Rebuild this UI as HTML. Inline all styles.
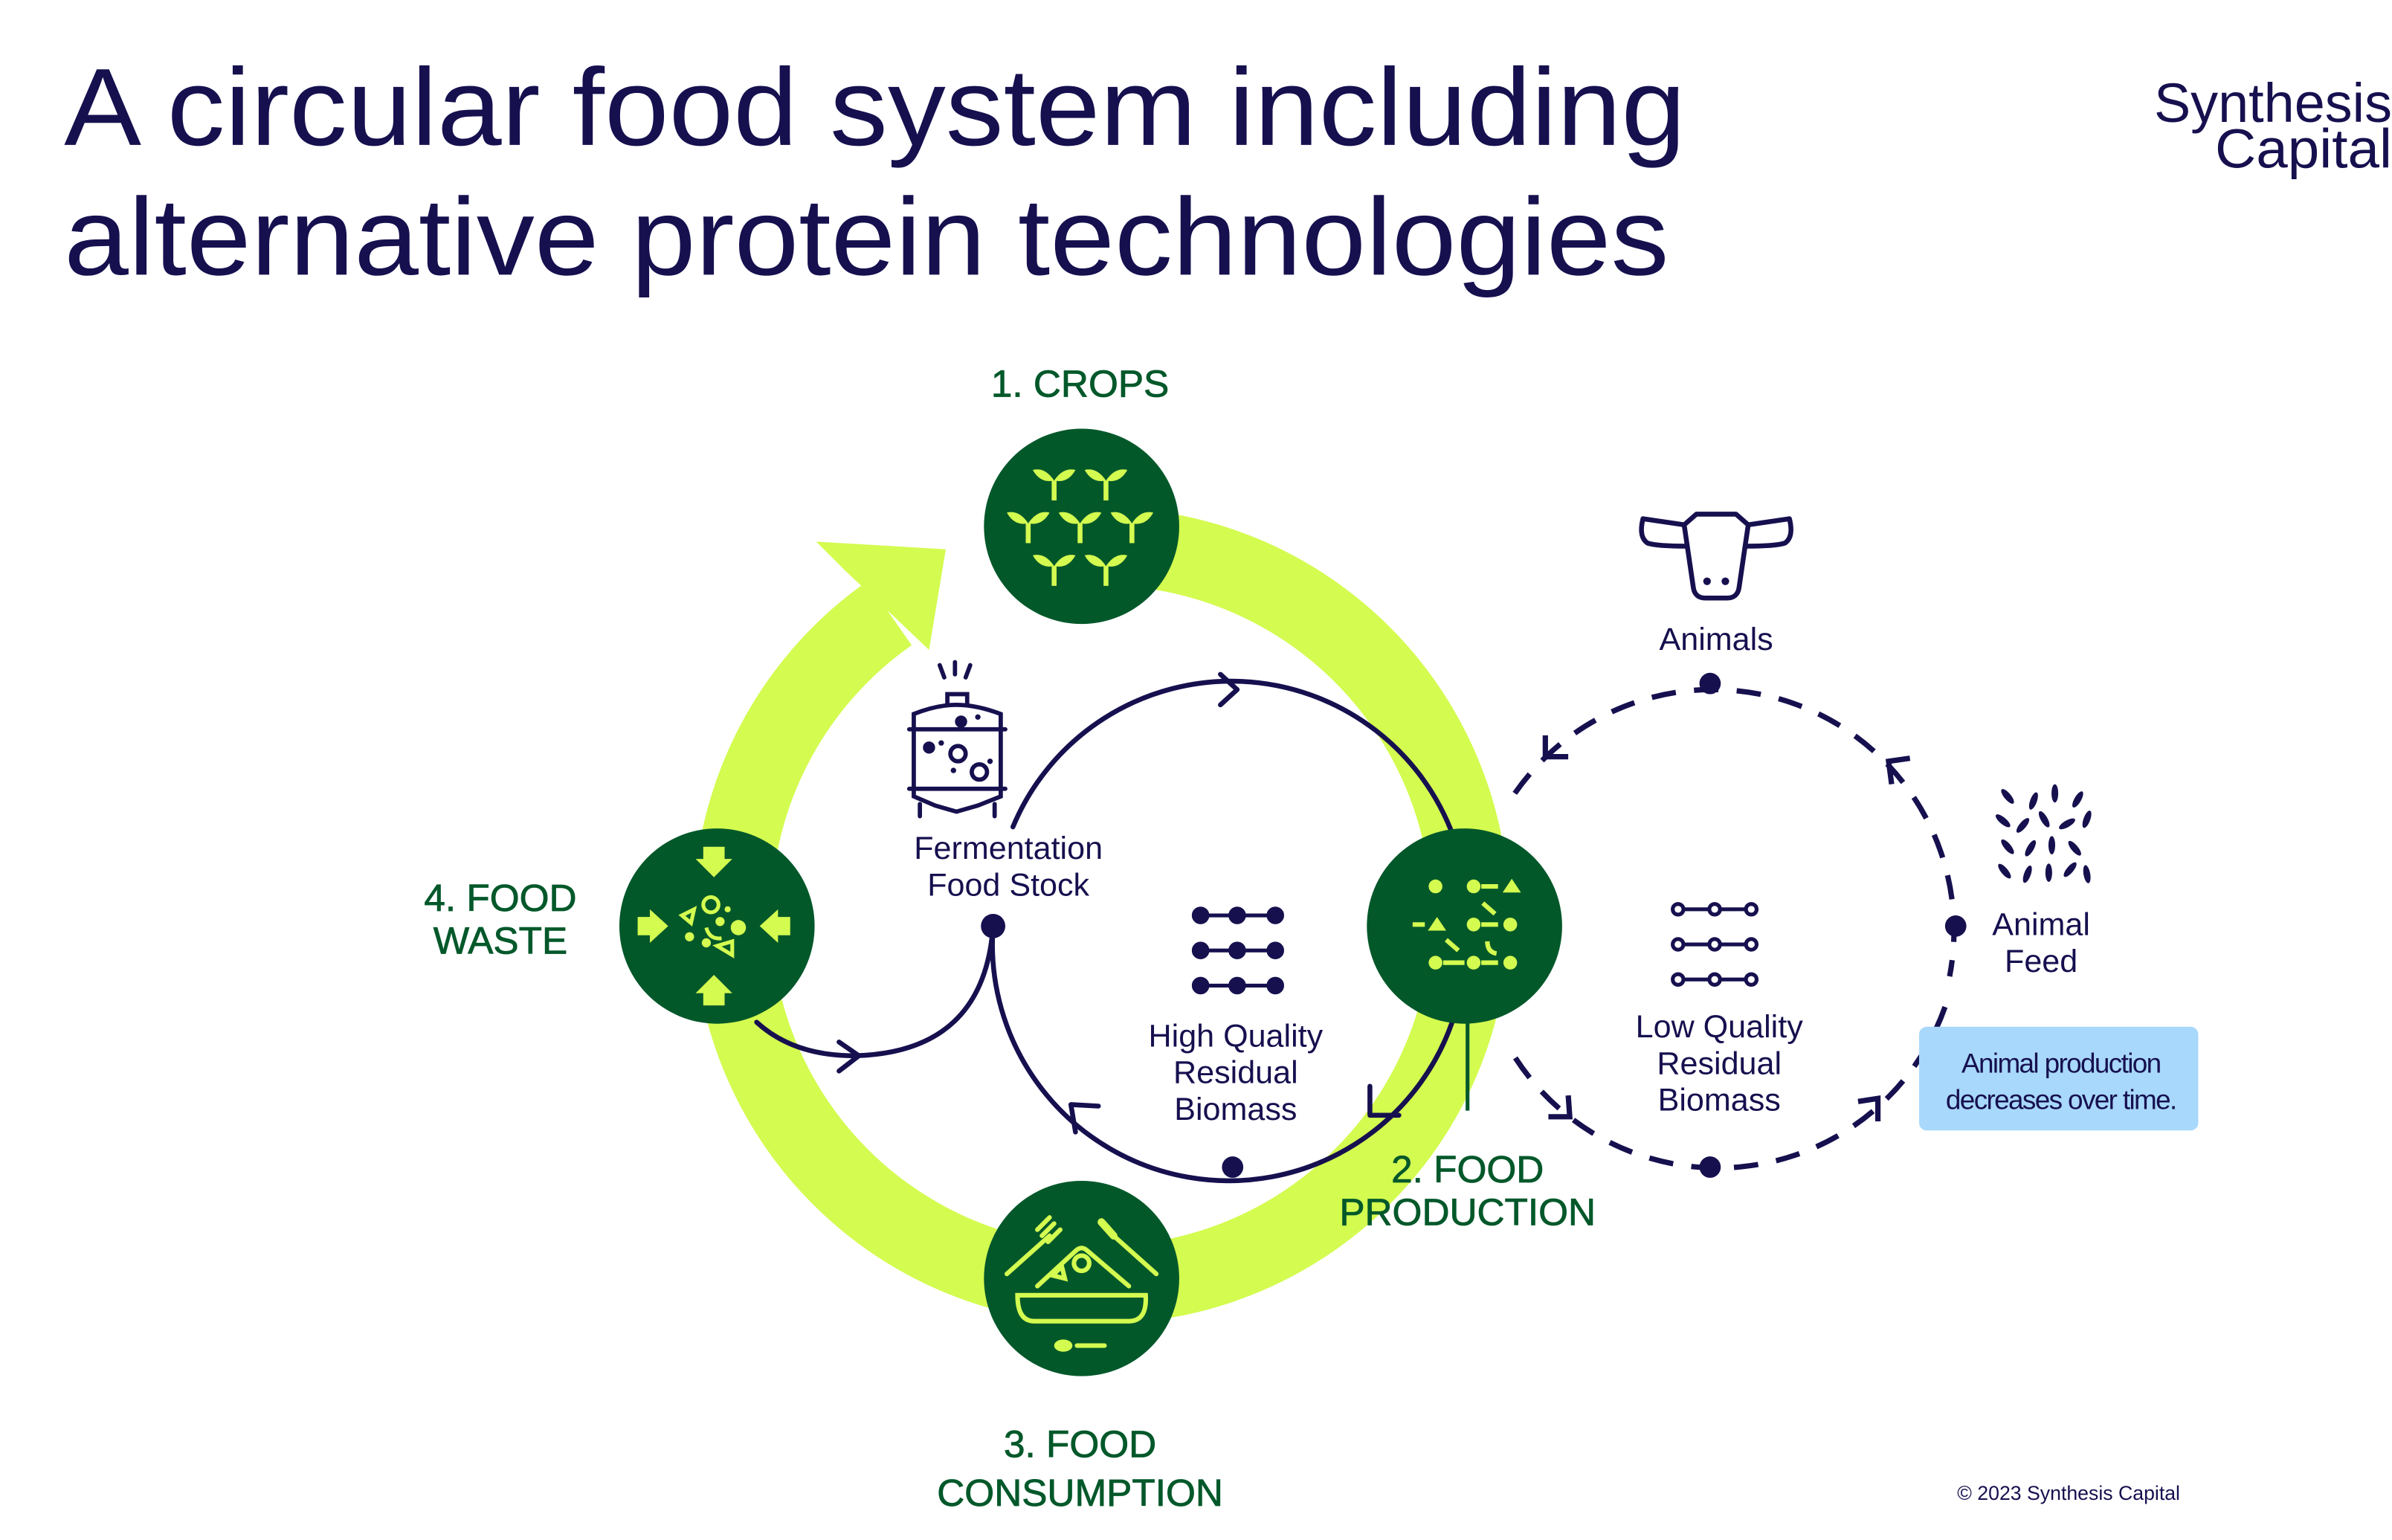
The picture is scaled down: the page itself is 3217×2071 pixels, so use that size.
<!DOCTYPE html>
<html><head><meta charset="utf-8"><style>
html,body{margin:0;padding:0;background:#fff;}
svg{display:block;}
text{font-family:"Liberation Sans",sans-serif;}
</style></head><body>
<svg width="3217" height="2071" viewBox="0 0 1568 1009.4" xmlns="http://www.w3.org/2000/svg">
<defs>
<g id="sp"><path d="M0 -3 L0 10" stroke="#d4fb50" stroke-width="3.2" fill="none"/><path d="M0 -3 Q-6 -12 -14 -10 Q-9 -1 0 -3Z" fill="#d4fb50"/><path d="M0 -3 Q6 -12 14 -10 Q9 -1 0 -3Z" fill="#d4fb50"/></g>
</defs>
<text x="42" y="95" font-size="72" fill="#16104f" textLength="1063" lengthAdjust="spacingAndGlyphs">A circular food system including</text>
<text x="42" y="180" font-size="72" fill="#16104f" textLength="1052" lengthAdjust="spacingAndGlyphs">alternative protein technologies</text>
<text x="1412" y="80" font-size="36" fill="#16104f" textLength="156" lengthAdjust="spacingAndGlyphs">Synthesis</text>
<text x="1452" y="110" font-size="36" fill="#16104f" textLength="116" lengthAdjust="spacingAndGlyphs">Capital</text>

<path d="M702.9 358.9 A242 242 0 1 1 583 402" fill="none" stroke="#d4fb50" stroke-width="51"/>
<polygon points="535,355 620,360 609,426 588,406 554,374" fill="#d4fb50"/>

<g fill="none" stroke="#16104f" stroke-width="3.2" stroke-linecap="round" stroke-linejoin="round">
<path d="M664 542 A155 155 0 0 1 955 555"/>
<path d="M955 660 A155 155 0 0 1 651 607"/>
<path d="M496 670 Q520 692 560 692 Q645 690 651 607"/>
<polyline points="800,442 811,452 800,462"/>
<polyline points="705,742 702,724 720,725"/>
<polyline points="898,712 898,731 917,731"/>
<polyline points="550,683 563,692 550,702"/>
</g>
<circle cx="651" cy="607" r="8" fill="#16104f"/>
<circle cx="808" cy="765" r="7" fill="#16104f"/>

<g fill="none" stroke="#16104f" stroke-width="3.5" stroke-linecap="butt">
<path d="M993 520 A158 158 0 0 1 1278 640" stroke-dasharray="16 12"/>
<path d="M1275 660 A158 158 0 0 1 990 688" stroke-dasharray="16 12"/>
<polyline points="1013,482 1013,496 1028,496"/>
<polyline points="1240,514 1238,499 1252,497"/>
<polyline points="1028,718 1029,732 1015,732"/>
<polyline points="1218,722 1231,720 1231,735"/>
</g>
<circle cx="1121" cy="448" r="7" fill="#16104f"/>
<circle cx="1121" cy="765" r="7" fill="#16104f"/>
<circle cx="1282" cy="607" r="7" fill="#16104f"/>

<line x1="962" y1="660" x2="962" y2="728" stroke="#03582a" stroke-width="2.5"/>

<g fill="#03582a">
<circle cx="709" cy="345" r="64"/>
<circle cx="960" cy="607" r="64"/>
<circle cx="709" cy="838" r="64"/>
<circle cx="470" cy="607" r="64"/>
</g>
<use href="#sp" x="691" y="318"/><use href="#sp" x="725" y="318"/>
<use href="#sp" x="674" y="346"/><use href="#sp" x="708" y="346"/><use href="#sp" x="742" y="346"/>
<use href="#sp" x="691" y="374"/><use href="#sp" x="725" y="374"/>
<g fill="#d4fb50" stroke="#d4fb50" stroke-width="3">
<circle cx="941" cy="581" r="4.5" stroke="none"/><circle cx="966" cy="581" r="4.5" stroke="none"/>
<line x1="971" y1="581" x2="982" y2="581"/><polygon points="985,585 991,576 997,585" stroke="none"/>
<line x1="972" y1="592" x2="980" y2="599"/>
<line x1="926" y1="606" x2="934" y2="606"/><polygon points="936,610 942,601 948,610" stroke="none"/>
<circle cx="966" cy="606" r="4.5" stroke="none"/><line x1="971" y1="606" x2="982" y2="606"/><circle cx="990" cy="606" r="4.5" stroke="none"/>
<line x1="948" y1="616" x2="956" y2="623"/><path d="M975 617 Q975 624 981 625" fill="none"/>
<circle cx="941" cy="631" r="4.5" stroke="none"/><line x1="946" y1="631" x2="960" y2="631"/><circle cx="966" cy="631" r="4.5" stroke="none"/><line x1="971" y1="631" x2="982" y2="631"/><circle cx="990" cy="631" r="4.5" stroke="none"/>
</g>
<g fill="none" stroke="#d4fb50" stroke-width="3" stroke-linecap="round">
<line x1="660" y1="835" x2="688" y2="810"/><path d="M683 810 l8 -8 M687 814 l8 -8 M680 806 l8 -8"/>
<line x1="758" y1="835" x2="730" y2="810"/><line x1="730" y1="810" x2="722" y2="801" stroke-width="5"/>
<path d="M680 843 L705 820 Q709 816 713 820 L740 843"/>
<circle cx="709" cy="828" r="5"/><path d="M690 836 l6 -6 l2 8z"/>
<path d="M667 849 L751 849 Q752 866 740 866 L678 866 Q667 866 667 849Z"/>
<line x1="706" y1="882" x2="724" y2="882"/>
</g>
<ellipse cx="697" cy="882" rx="6" ry="4" fill="#d4fb50"/>
<g fill="#d4fb50">
<polygon points="461,555 475,555 475,563 480,563 468,575 456,563 461,563"/>
<polygon points="461,659 475,659 475,651 480,651 468,639 456,651 461,651"/>
<polygon points="418,601 418,613 426,613 426,618 438,607 426,596 426,601"/>
<polygon points="518,601 518,613 510,613 510,618 498,607 510,596 510,601"/>
<circle cx="484" cy="608" r="5"/><circle cx="452" cy="614" r="3"/><circle cx="463" cy="618" r="3"/><circle cx="472" cy="604" r="3"/><circle cx="477" cy="596" r="2"/>
</g>
<g fill="none" stroke="#d4fb50" stroke-width="2.5">
<circle cx="466" cy="593" r="5"/><path d="M447 600 l8 -4 l-2 9z"/><path d="M470 620 l10 -3 l0 9z"/><path d="M463 608 q2 8 10 7"/>
</g>

<g fill="none" stroke="#16104f" stroke-width="2.8" stroke-linecap="round">
<path d="M616 436 l3 8 M626 434 l0 8 M636 436 l-3 8"/>
<path d="M621 462 L621 455 L634 455 L634 462"/>
<path d="M599 468 Q614 462 627 462 Q640 462 656 468 L656 522 L641 528 L627 532 L613 528 L599 522 Z"/>
<line x1="596" y1="478" x2="659" y2="478"/><line x1="596" y1="517" x2="659" y2="517"/>
<line x1="603" y1="527" x2="603" y2="535"/><line x1="652" y1="527" x2="652" y2="535"/>
<circle cx="628" cy="494" r="5"/><circle cx="642" cy="506" r="5"/>
</g>
<g fill="#16104f"><circle cx="630" cy="473" r="4"/><circle cx="609" cy="490" r="4"/><circle cx="617" cy="487" r="1.8"/><circle cx="641" cy="470" r="1.8"/><circle cx="625" cy="505" r="1.8"/><circle cx="649" cy="499" r="1.8"/></g>

<g fill="#16104f" stroke="#16104f" stroke-width="2.5">
<circle cx="787" cy="600" r="4.5"/><circle cx="811" cy="600" r="4.5"/><circle cx="836" cy="600" r="4.5"/><line x1="791" y1="600" x2="832" y2="600"/>
<circle cx="787" cy="623" r="4.5"/><circle cx="811" cy="623" r="4.5"/><circle cx="836" cy="623" r="4.5"/><line x1="791" y1="623" x2="832" y2="623"/>
<circle cx="787" cy="646" r="4.5"/><circle cx="811" cy="646" r="4.5"/><circle cx="836" cy="646" r="4.5"/><line x1="791" y1="646" x2="832" y2="646"/>
</g>
<g fill="#fff" stroke="#16104f" stroke-width="2.5">
<line x1="1100" y1="596" x2="1148" y2="596"/><line x1="1100" y1="619" x2="1148" y2="619"/><line x1="1100" y1="642" x2="1148" y2="642"/>
<circle cx="1100" cy="596" r="3.5"/><circle cx="1124" cy="596" r="3.5"/><circle cx="1148" cy="596" r="3.5"/>
<circle cx="1100" cy="619" r="3.5"/><circle cx="1124" cy="619" r="3.5"/><circle cx="1148" cy="619" r="3.5"/>
<circle cx="1100" cy="642" r="3.5"/><circle cx="1124" cy="642" r="3.5"/><circle cx="1148" cy="642" r="3.5"/>
</g>
<g fill="none" stroke="#16104f" stroke-width="3.2" stroke-linejoin="round">
<path d="M1112 337 L1104 344 L1110 385 Q1111 392 1118 392 L1132 392 Q1139 392 1140 385 L1146 344 L1138 337 Z"/>
<path d="M1104 344 L1077 340 Q1074 352 1080 356 Q1086 358 1106 358"/>
<path d="M1146 344 L1173 340 Q1176 352 1170 356 Q1164 358 1144 358"/>
</g>
<circle cx="1119" cy="381" r="2.5" fill="#16104f"/><circle cx="1131" cy="381" r="2.5" fill="#16104f"/>
<g fill="#16104f">
<ellipse cx="1316" cy="522" rx="2.2" ry="6" transform="rotate(-40 1316 522)"/>
<ellipse cx="1333" cy="525" rx="2.2" ry="6" transform="rotate(20 1333 525)"/>
<ellipse cx="1347" cy="520" rx="2.2" ry="6" transform="rotate(0 1347 520)"/>
<ellipse cx="1362" cy="524" rx="2.2" ry="6" transform="rotate(30 1362 524)"/>
<ellipse cx="1313" cy="538" rx="2.2" ry="6" transform="rotate(-50 1313 538)"/>
<ellipse cx="1326" cy="541" rx="2.2" ry="6" transform="rotate(40 1326 541)"/>
<ellipse cx="1340" cy="537" rx="2.2" ry="6" transform="rotate(-30 1340 537)"/>
<ellipse cx="1355" cy="540" rx="2.2" ry="6" transform="rotate(60 1355 540)"/>
<ellipse cx="1368" cy="537" rx="2.2" ry="6" transform="rotate(20 1368 537)"/>
<ellipse cx="1316" cy="555" rx="2.2" ry="6" transform="rotate(-40 1316 555)"/>
<ellipse cx="1331" cy="556" rx="2.2" ry="6" transform="rotate(30 1331 556)"/>
<ellipse cx="1345" cy="554" rx="2.2" ry="6" transform="rotate(0 1345 554)"/>
<ellipse cx="1360" cy="556" rx="2.2" ry="6" transform="rotate(-40 1360 556)"/>
<ellipse cx="1314" cy="571" rx="2.2" ry="6" transform="rotate(-40 1314 571)"/>
<ellipse cx="1329" cy="573" rx="2.2" ry="6" transform="rotate(20 1329 573)"/>
<ellipse cx="1343" cy="572" rx="2.2" ry="6" transform="rotate(0 1343 572)"/>
<ellipse cx="1357" cy="570" rx="2.2" ry="6" transform="rotate(40 1357 570)"/>
<ellipse cx="1368" cy="573" rx="2.2" ry="6" transform="rotate(-10 1368 573)"/>
</g>

<rect x="1258" y="673" width="183" height="68" rx="5" fill="#a8d8fb"/>
<g fill="#16104f" font-size="18" text-anchor="middle" letter-spacing="-0.8">
<text x="1351" y="703">Animal production</text>
<text x="1351" y="727">decreases over time.</text>
</g>

<g fill="#16104f" font-size="21" text-anchor="middle">
<text x="661" y="563">Fermentation</text>
<text x="661" y="587">Food Stock</text>
<text x="810" y="686">High Quality</text>
<text x="810" y="710">Residual</text>
<text x="810" y="734">Biomass</text>
<text x="1127" y="680">Low Quality</text>
<text x="1127" y="704">Residual</text>
<text x="1127" y="728">Biomass</text>
<text x="1125" y="426">Animals</text>
<text x="1338" y="613">Animal</text>
<text x="1338" y="637">Feed</text>
</g>
<g fill="#03582a" font-size="25" text-anchor="middle" stroke="#03582a" stroke-width="0.4">
<text x="708" y="260">1. CROPS</text>
<text x="962" y="775">2. FOOD</text>
<text x="962" y="803">PRODUCTION</text>
<text x="708" y="955">3. FOOD</text>
<text x="708" y="987">CONSUMPTION</text>
<text x="328" y="597">4. FOOD</text>
<text x="328" y="625">WASTE</text>
</g>
<text x="1283" y="983" font-size="13" fill="#16104f">© 2023 Synthesis Capital</text>
</svg>
</body></html>
